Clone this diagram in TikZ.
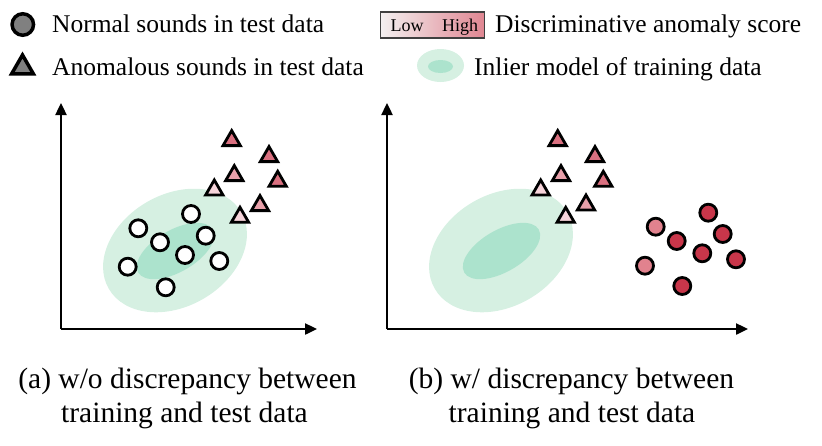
\documentclass[tikz,border=0pt]{standalone}
\usepackage{fontspec}
\setmainfont{Liberation Serif}
\usetikzlibrary{shapes.geometric,arrows.meta}
\definecolor{gicon}{RGB}{128,128,128}
\definecolor{gout}{RGB}{214,240,226}
\definecolor{gin}{RGB}{172,227,205}
\definecolor{thi}{RGB}{218,112,128}
\definecolor{tmid}{RGB}{232,160,170}
\definecolor{tlo}{RGB}{246,212,218}
\definecolor{cdark}{RGB}{200,54,74}
\definecolor{cmid}{RGB}{225,130,142}
\definecolor{barlo}{RGB}{243,240,240}
\definecolor{barhi}{RGB}{224,134,146}
\tikzset{
  pt/.style={circle,draw=black,line width=2.8pt,minimum size=17pt,inner sep=0pt},
  tri/.style={regular polygon,regular polygon sides=3,draw=black,line width=2.8pt,minimum size=20pt,inner sep=0pt},
  axisline/.style={line width=2.4pt,-{Triangle[length=12pt,width=11pt]}},
  legtext/.style={anchor=base west,inner sep=0pt,font=\fontsize{25.5}{30}\selectfont},
  captext/.style={anchor=base,inner sep=0pt,align=center,font=\fontsize{29.5}{34}\selectfont},
}
\begin{document}
\begin{tikzpicture}[x=1pt,y=-1pt]
\useasboundingbox (0,0) rectangle (822,445);
% ---------- legend ----------
\node[circle,draw=black,fill=gicon,line width=3.5pt,minimum size=21.5pt,inner sep=0pt] (lc) at (22.8,24.5) {};
\node[regular polygon,regular polygon sides=3,draw=black,fill=gicon,line width=3.5pt,minimum size=25pt,inner sep=0pt] (lt) at (22.5,67.5) {};
\node[legtext] (ln) at (52,32.5) {Normal sounds in test data};
\node[legtext] (la) at (52,75.5) {Anomalous sounds in test data};
\node[draw=black!75,line width=1.2pt,left color=barlo,right color=barhi,minimum width=104pt,minimum height=26pt,inner sep=0pt] (bar) at (432.5,25) {};
\node[font=\fontsize{18}{20}\selectfont,inner sep=0pt,anchor=base] (low) at (407,31) {Low};
\node[font=\fontsize{18}{20}\selectfont,inner sep=0pt,anchor=base] (high) at (460,31) {High};
\node[legtext] (ld) at (495,32.5) {Discriminative anomaly score};
\fill[gout] (440.5,65.5) ellipse [x radius=23.5pt, y radius=16.5pt];
\fill[gin] (440.5,66.5) ellipse [x radius=12.5pt, y radius=6.5pt];
\node[legtext] (li) at (474,75.5) {Inlier model of training data};
% ---------- panel (a) ----------
\fill[gout,rotate around={30:(175,250.5)}] (175,250.5) ellipse [x radius=76.5pt, y radius=56pt];
\fill[gin,rotate around={30:(175.5,251)}] (175.5,251) ellipse [x radius=43pt, y radius=21pt];
\coordinate (oa) at (61,329);
\coordinate (ya) at (61,103);
\coordinate (xa) at (317,329);
\draw[axisline] (oa) -- (ya);
\draw[axisline] (oa) -- (xa);
\foreach \n/\x/\y in {1/138.3/228.3, 2/191/214, 3/160/242.3, 4/205.7/235.7, 5/185/255, 6/127.7/266.7, 7/219.3/261, 8/165.7/287.3}
  \node[pt,fill=white] (ac\n) at (\x,\y) {};
\foreach \n/\x/\y/\c in {1/231.7/138.3/thi, 2/269/154.3/thi, 3/234.3/173.3/tmid, 4/277.7/179/thi, 5/214.3/187.7/tlo, 6/260/203.3/tmid, 7/240/215/tlo}
  \node[tri,fill=\c] (at\n) at (\x,\y+2.3) {};
% ---------- panel (b) ----------
\fill[gout,rotate around={30:(501,250.5)}] (501,250.5) ellipse [x radius=76.5pt, y radius=56pt];
\fill[gin,rotate around={30:(501.5,251)}] (501.5,251) ellipse [x radius=43pt, y radius=21pt];
\coordinate (ob) at (387,329);
\coordinate (yb) at (387,103);
\coordinate (xb) at (748,329);
\draw[axisline] (ob) -- (yb);
\draw[axisline] (ob) -- (xb);
\foreach \n/\x/\y/\c in {1/557.7/138.3/thi, 2/595/154.3/thi, 3/561/173.3/tmid, 4/603.3/179/thi, 5/540.7/187.7/tlo, 6/586/202.7/tmid, 7/565.7/215/tlo}
  \node[tri,fill=\c] (bt\n) at (\x,\y+2.3) {};
\foreach \n/\x/\y/\c in {1/708.3/212.7/cdark, 2/655.7/226.7/cmid, 3/676.7/241/cdark, 4/722.7/234/cdark, 5/702.3/253.3/cdark, 6/736/259.3/cdark, 7/645/265.7/cmid, 8/682.3/286/cdark}
  \node[pt,fill=\c] (bc\n) at (\x,\y) {};
% ---------- captions ----------
\node[captext] (capa) at (187.5,388) {(a) w/o discrepancy between};
\node[captext] (capa2) at (184.5,422) {training and test data};
\node[captext] (capb) at (571.5,388) {(b) w/ discrepancy between};
\node[captext] (capb2) at (572,422) {training and test data};
\end{tikzpicture}
\end{document}
